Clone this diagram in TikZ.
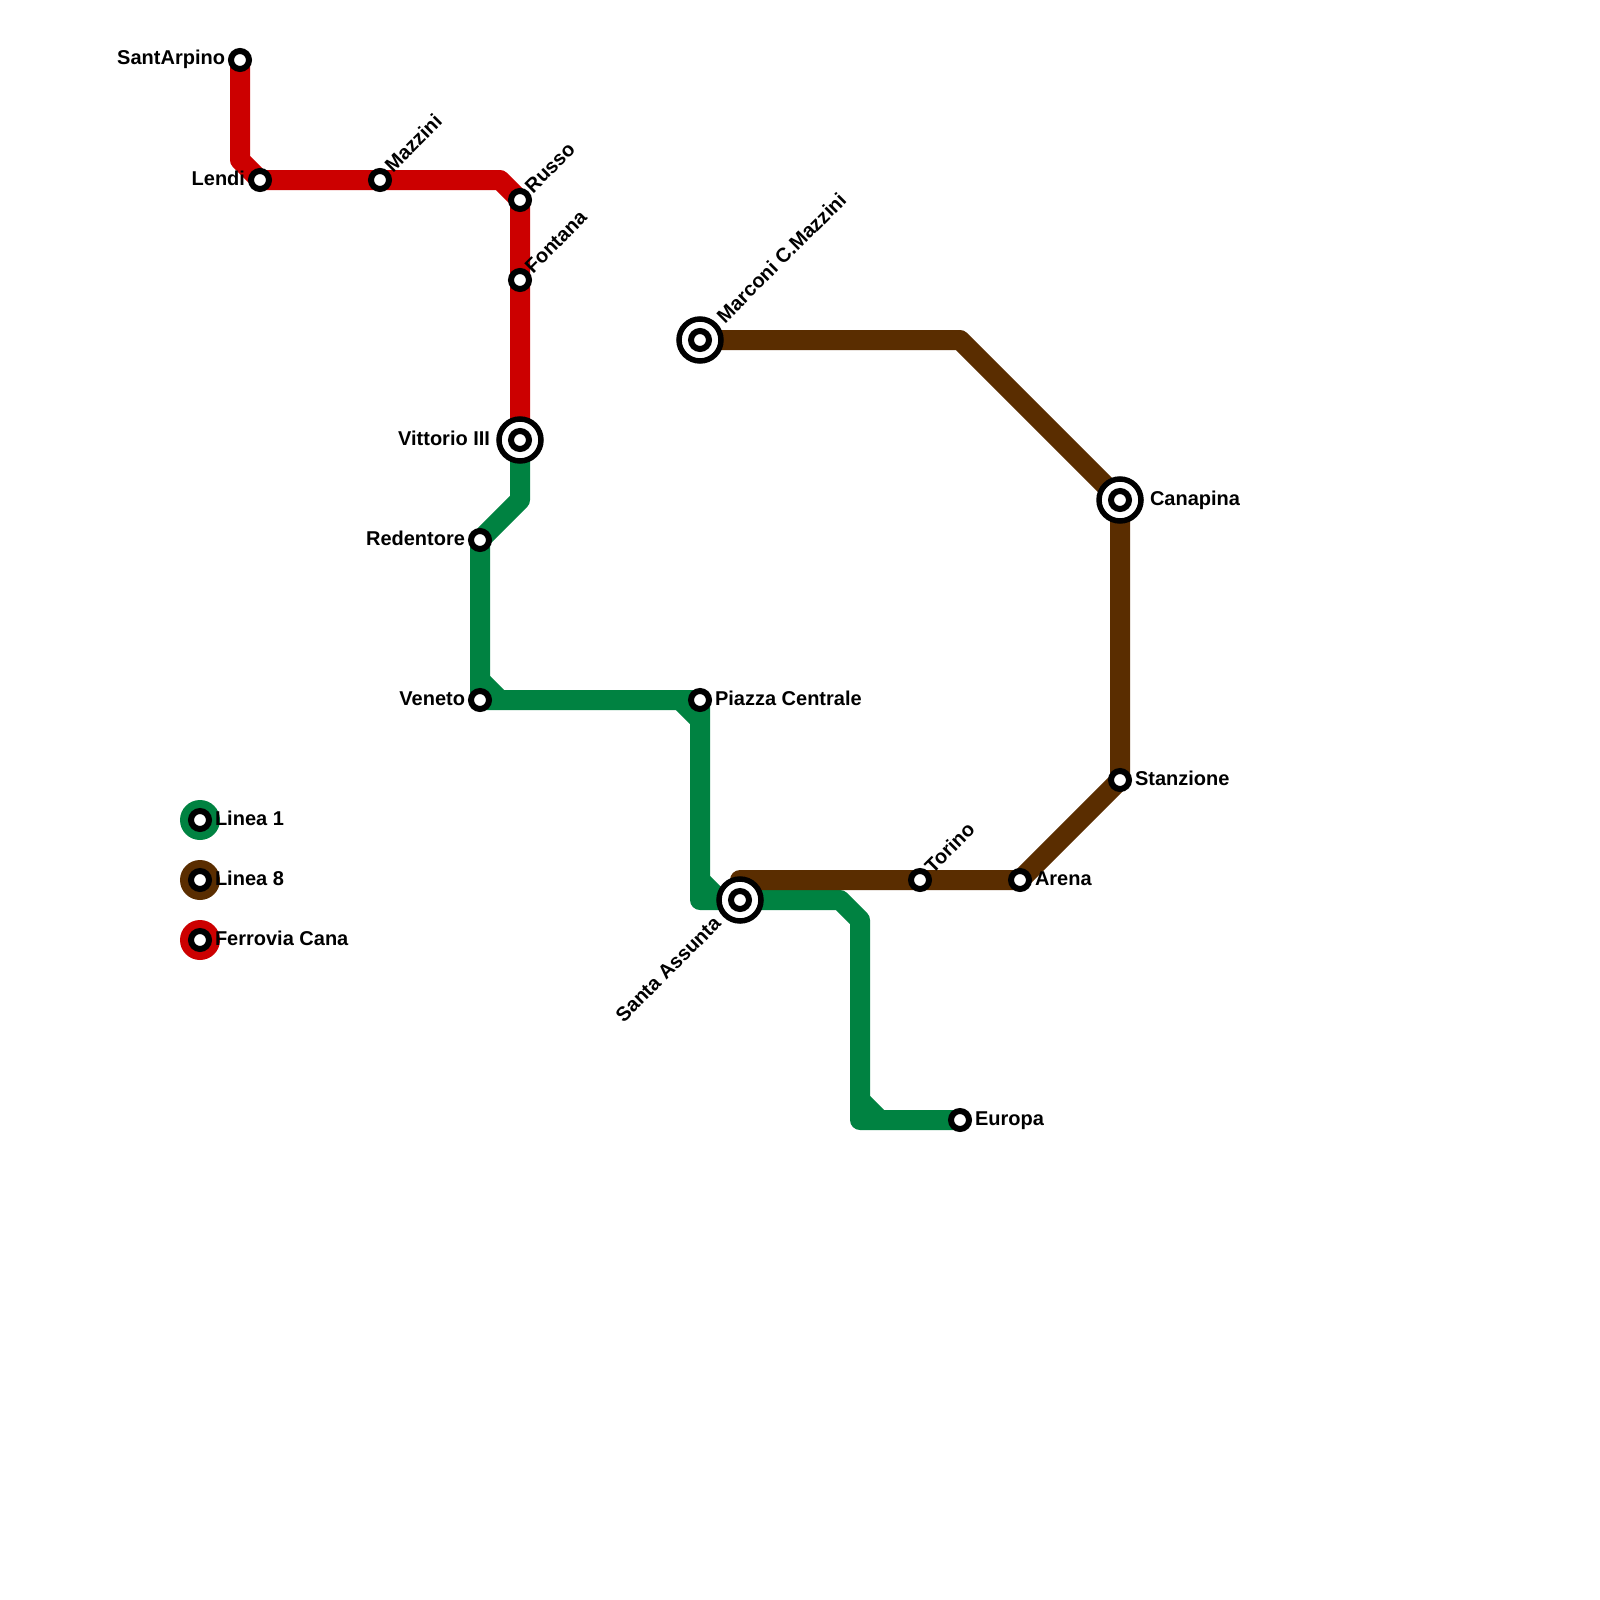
\documentclass[tikz,border=0pt]{standalone}
\usepackage{fontspec}
\setmainfont{Liberation Sans}[BoldFont={Liberation Sans Bold}]
\usetikzlibrary{backgrounds}
\definecolor{lineG}{HTML}{008241}
\definecolor{lineB}{HTML}{5A2D00}
\definecolor{lineR}{HTML}{CC0000}
\tikzset{
  stn/.style={circle,draw=black,fill=white,line width=6pt,minimum size=18pt,inner sep=0pt,outer sep=0pt},
  hubouter/.style={circle,draw=black,fill=white,line width=5.5pt,minimum size=42pt,inner sep=0pt,outer sep=0pt},
  lbl/.style={font=\bfseries\fontsize{20}{22}\selectfont,text=black,inner sep=0pt,outer sep=0pt},
  lblr/.style={lbl,anchor=base west},
  lbll/.style={lbl,anchor=base east},
  lbld/.style={lbl,anchor=base west,rotate=45},
  lblb/.style={lbl,anchor=base east,rotate=45},
  metro/.style={line width=20pt,line join=round,line cap=butt},
  legdot/.style={circle,fill=#1,minimum size=40pt,inner sep=0pt,outer sep=0pt},
}
\newcommand{\hub}[3]{\node[hubouter] (#1) at (#2,#3) {};\node[stn] (#1in) at (#2,#3) {};}
\begin{document}
\begin{tikzpicture}[x=1pt,y=-1pt]
\useasboundingbox (0,0) rectangle (1600,1600);
% stations
\node[stn] (sarp) at (240,60) {};
\node[stn] (lendi) at (260,180) {};
\node[stn] (mazz) at (380,180) {};
\node[stn] (russo) at (520,200) {};
\node[stn] (font) at (520,280) {};
\hub{vitt}{520}{440}
\node[stn] (rede) at (480,540) {};
\node[stn] (vene) at (480,700) {};
\node[stn] (piaz) at (700,700) {};
\hub{sant}{740}{900}
\node[stn] (euro) at (960,1120) {};
\hub{marc}{700}{340}
\hub{cana}{1120}{500}
\node[stn] (stan) at (1120,780) {};
\node[stn] (aren) at (1020,880) {};
\node[stn] (tori) at (920,880) {};
% waypoints
\coordinate (r1) at (240,160);
\coordinate (r2) at (500,180);
\coordinate (g1) at (520,500);
\coordinate (g2) at (480,680);
\coordinate (g3) at (500,700);
\coordinate (g4) at (680,700);
\coordinate (g5) at (700,720);
\coordinate (g6) at (700,880);
\coordinate (g7) at (700,900);
\coordinate (g8) at (720,900);
\coordinate (g9) at (840,900);
\coordinate (g10) at (860,920);
\coordinate (g11) at (860,1100);
\coordinate (g12) at (860,1120);
\coordinate (g13) at (880,1120);
\coordinate (b1) at (960,340);
\coordinate (b2) at (740,880);
\begin{scope}[on background layer]
\fill[white] (0,0) rectangle (1600,1600);
\draw[metro,lineR] (sarp.center) -- (r1) -- (lendi.center) -- (mazz.center) -- (r2) -- (russo.center) -- (font.center) -- (vitt.center);
\draw[metro,lineG] (vitt.center) -- (g1) -- (rede.center) -- (vene.center) -- (piaz.center);
\draw[metro,lineG] (g2) -- (g3);
\draw[metro,lineG] (g4) -- (g5);
\draw[metro,lineG] (piaz.center) -- (g7) -- (sant.center) -- (g9) -- (g10) -- (g12) -- (euro.center);
\draw[metro,lineG] (g6) -- (g8);
\draw[metro,lineG] (g11) -- (g13);
\draw[metro,lineB] (sant.center) -- (b2) -- (tori.center) -- (aren.center) -- (stan.center) -- (cana.center) -- (b1) -- (marc.center);
\end{scope}
% labels
\node[lbll] (lsarp) at (225,65) {SantArpino};
\node[lbll] (llend) at (245,185) {Lendi};
\node[lbld] (lmazz) at (393,173) {Mazzini};
\node[lbld] (lruss) at (533,194) {Russo};
\node[lbld] (lfont) at (533,274) {Fontana};
\node[lbll] (lvitt) at (490,445) {Vittorio III};
\node[lbll] (lrede) at (465,545) {Redentore};
\node[lbll] (lvene) at (465,705) {Veneto};
\node[lblr] (lpiaz) at (715,705) {Piazza Centrale};
\node[lblb] (lsant) at (722,925) {Santa Assunta};
\node[lblr] (leuro) at (975,1125) {Europa};
\node[lbld] (lmarc) at (725,324) {Marconi C.Mazzini};
\node[lblr] (lcana) at (1150,505) {Canapina};
\node[lblr] (lstan) at (1135,785) {Stanzione};
\node[lblr] (laren) at (1035,885) {Arena};
\node[lbld] (ltori) at (933,874) {Torino};
% legend
\node[legdot=lineG] (kg) at (200,820) {};
\node[stn] (kgs) at (200,820) {};
\node[lblr] (lkg) at (215,825) {Linea 1};
\node[legdot=lineB] (kb) at (200,880) {};
\node[stn] (kbs) at (200,880) {};
\node[lblr] (lkb) at (215,885) {Linea 8};
\node[legdot=lineR] (kr) at (200,940) {};
\node[stn] (krs) at (200,940) {};
\node[lblr] (lkr) at (215,945) {Ferrovia Cana};
\end{tikzpicture}
\end{document}
